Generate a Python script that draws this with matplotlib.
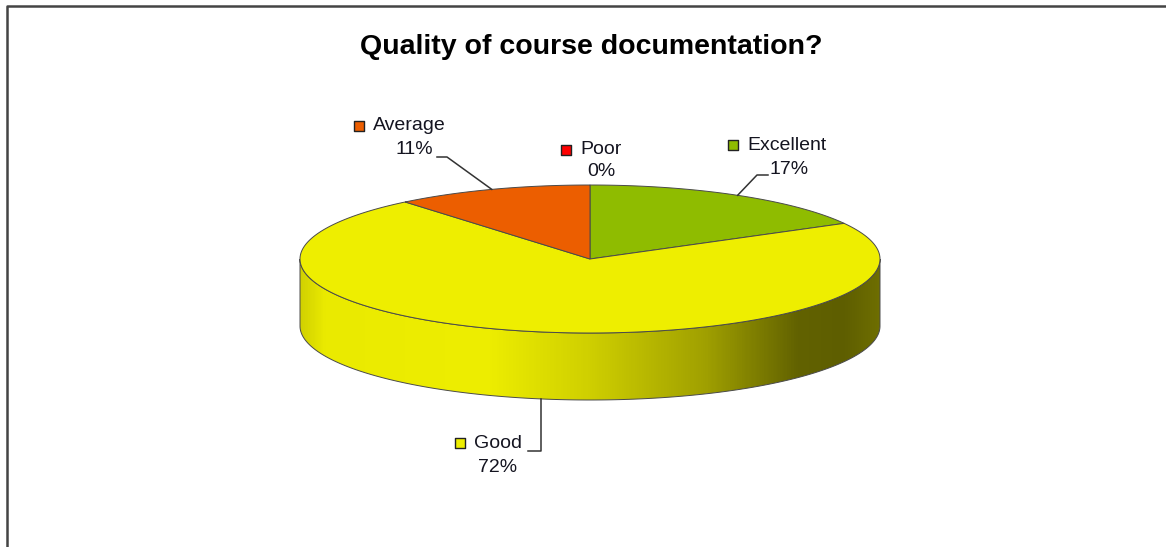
import numpy as np
import matplotlib
matplotlib.use("Agg")
import matplotlib.pyplot as plt
from matplotlib.patches import Polygon
from matplotlib.colors import LinearSegmentedColormap

plt.rcParams['font.family'] = ['Liberation Sans', 'DejaVu Sans']

# data, clockwise from 12 o'clock
categories = ["Excellent", "Good", "Average", "Poor"]
values = [17, 72, 11, 0]
colors = ["#8fbc00", "#eeee00", "#ec5e00", "#ff0000"]
title = "Quality of course documentation?"

# label placement (pixels): marker position, percent text center
label_pos = {
    "Excellent": ((733, 145), (789, 169)),
    "Good": ((460, 443), (498, 467)),
    "Average": ((359, 126), (414, 149)),
    "Poor": ((566, 150), (601, 172)),
}
# leader elbow points (pixels)
elbows = {
    "Excellent": [(757, 175), (768, 175)],
    "Good": [(541, 451), (528, 451)],
    "Average": [(447, 157), (437, 157)],
}

CX, CY, A, B, DEPTH = 590, 259, 290, 74, 67
TXT = "#141420"
EDGE = "#4a4a4a"


def pt(t, dy=0):
    r = np.radians(t)
    return CX + A * np.sin(r), CY - B * np.cos(r) + dy


fig = plt.figure(figsize=(11.66, 5.47), dpi=100)
ax = fig.add_axes([0, 0, 1, 1])
ax.set_xlim(0, 1166)
ax.set_ylim(547, 0)
ax.axis("off")

# frame
ax.plot([7, 7, 1166], [547, 6, 6], color="#444444", lw=1.8, solid_capstyle="butt")

ax.text(591, 47, title, ha="center", va="center", fontsize=20.5, fontweight="bold", color="#000000")

total = sum(values)
starts = np.cumsum([0] + values[:-1]) / total * 360
spans = np.array(values) / total * 360

# side walls (front half, 90..270 degrees)
side_cmap = LinearSegmentedColormap.from_list("side", [
    (0.0, "#d2d200"), (0.04, "#eaea00"), (0.32, "#eeee00"), (0.5, "#cfcf00"),
    (0.7, "#a0a000"), (0.86, "#626200"), (0.94, "#5e5e00"), (1.0, "#6e6e00")])
for cat, s, w, c in zip(categories, starts, spans, colors):
    lo, hi = max(s, 90), min(s + w, 270)
    if hi <= lo:
        continue
    ts = np.linspace(lo, hi, 200)
    top = [pt(t) for t in ts]
    bot = [pt(t, DEPTH) for t in ts[::-1]]
    poly = Polygon(top + bot, closed=True, facecolor="none", edgecolor=EDGE, lw=0.7, zorder=2)
    ax.add_patch(poly)
    grad = np.linspace(0, 1, 600).reshape(1, -1)
    im = ax.imshow(grad, cmap=side_cmap, extent=(CX - A, CX + A, CY + B + DEPTH, CY - B),
                   aspect="auto", zorder=1, interpolation="bilinear")
    im.set_clip_path(poly)

# top face
for cat, s, w, c in zip(categories, starts, spans, colors):
    if w <= 0:
        continue
    ts = np.linspace(s, s + w, 300)
    verts = [(CX, CY)] + [pt(t) for t in ts]
    ax.add_patch(Polygon(verts, closed=True, facecolor=c, edgecolor=EDGE, lw=0.7, zorder=3))

# labels
for cat, s, w, c, v in zip(categories, starts, spans, colors, values):
    (mx, my), (px, py) = label_pos[cat]
    ax.scatter([mx], [my], marker="s", s=45, facecolor=c, edgecolor="#222222", lw=1.0, zorder=5)
    ax.text(mx + 14, my, cat, ha="left", va="center", fontsize=14, color=TXT, zorder=5)
    ax.text(px, py, f"{v}%", ha="center", va="center", fontsize=14, color=TXT, zorder=5)
    if cat in elbows:
        mid = s + w / 2
        e1, e2 = elbows[cat]
        if 90 < mid < 270:
            ax_pt = (e1[0], pt(mid, DEPTH)[1])
        else:
            ax_pt = pt(mid)
        xs = [ax_pt[0], e1[0], e2[0]]
        ys = [ax_pt[1], e1[1], e2[1]]
        ax.plot(xs, ys, color="#333333", lw=1.1, zorder=4)

fig.savefig("out.png", dpi=100)
